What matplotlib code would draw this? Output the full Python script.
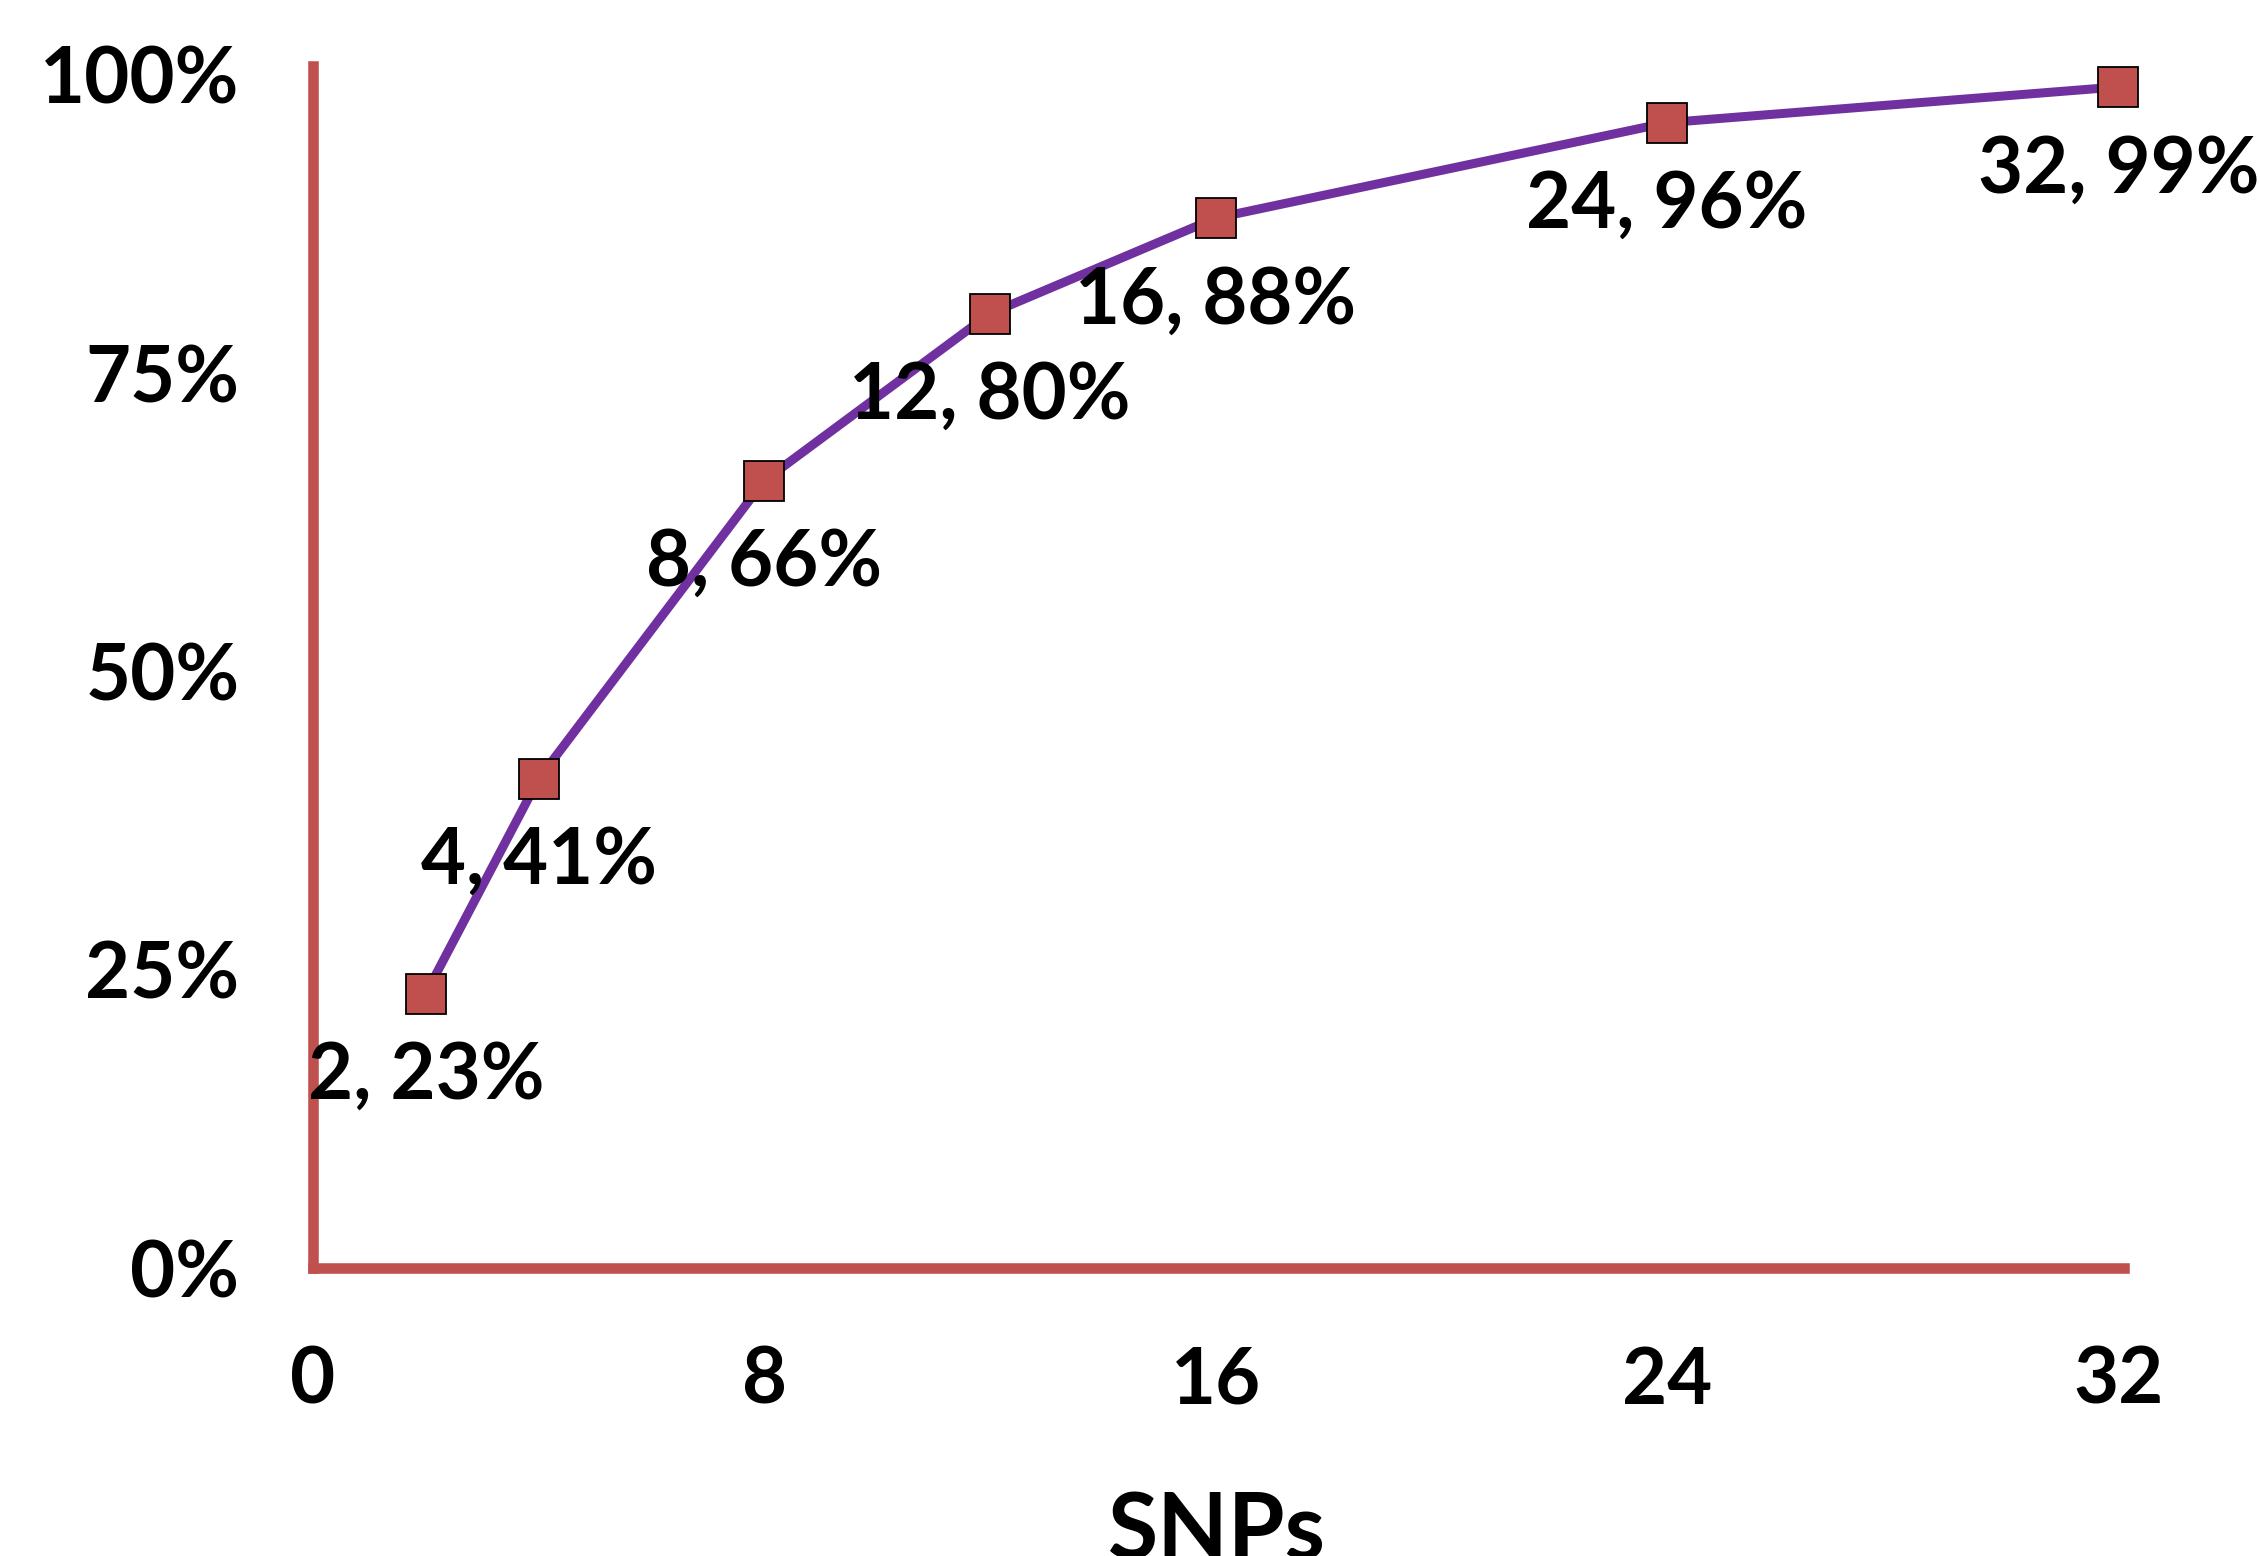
import matplotlib
matplotlib.use("Agg")
import matplotlib.pyplot as plt
from matplotlib.ticker import FuncFormatter

# Données : nombre de SNPs vs pourcentage
snps = [2, 4, 8, 12, 16, 24, 32]
pct = [0.23, 0.41, 0.66, 0.80, 0.88, 0.96, 0.99]
x_ticks = [0, 8, 16, 24, 32]
y_ticks = [0, 0.25, 0.5, 0.75, 1.0]

axis_red = "#C0504D"
line_purple = "#7030A0"

plt.rcParams["font.family"] = ["Lato", "DejaVu Sans"]
plt.rcParams["font.weight"] = "bold"

fig = plt.figure(figsize=(22.6, 15.56), dpi=100)
ax = fig.add_axes([313 / 2260, 1 - 1268 / 1556, 1811 / 2260, 1202 / 1556])

ax.plot(snps, pct, color=line_purple, linewidth=6.5, marker="s", markersize=29.5,
        markerfacecolor=axis_red, markeredgecolor="black", markeredgewidth=1.3,
        clip_on=False, zorder=3)

for x, y in zip(snps, pct):
    ax.annotate(f"{x}, {round(y * 100)}%", (x, y), xytext=(0, -60),
                textcoords="offset points", ha="center", va="center",
                fontsize=56, fontweight="bold", color="black", zorder=4)

ax.set_xlim(0, 32.1)
ax.set_ylim(0, 1.0075)
ax.set_xticks(x_ticks)
ax.set_yticks(y_ticks)
ax.yaxis.set_major_formatter(FuncFormatter(lambda v, _: f"{round(v * 100)}%"))
ax.tick_params(axis="both", length=0, labelsize=56)
ax.tick_params(axis="x", pad=56)
ax.tick_params(axis="y", pad=53)
for lab in ax.get_xticklabels() + ax.get_yticklabels():
    lab.set_fontweight("bold")

for side in ["top", "right"]:
    ax.spines[side].set_visible(False)
for side in ["left", "bottom"]:
    ax.spines[side].set_color(axis_red)
    ax.spines[side].set_linewidth(7.6)
    ax.spines[side].set_capstyle("projecting")

fig.text(1217 / 2260, 1 - 1492 / 1556, "SNPs", ha="center", va="top",
         fontsize=66, fontweight="bold")

fig.savefig("out.png", dpi=100)
